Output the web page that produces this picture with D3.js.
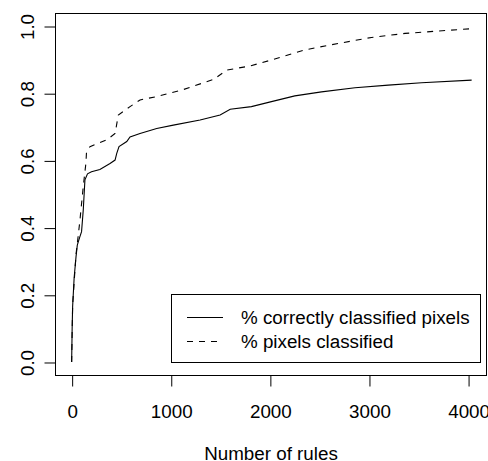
<!DOCTYPE html>
<html lang="en">
<head>
  <meta charset="UTF-8">
  <title>Rules vs classified pixels</title>
  <script src="https://cdn.jsdelivr.net/npm/d3@7"></script>
  <style>
    body { margin: 0; background: #fff; }
    svg { display: block; font-family: "Liberation Sans", Arial, sans-serif; }
  </style>
</head>
<body>
<svg></svg>
<script>
  const width = 488, height = 461
  const box = {left: 55, right: 487, top: 13, bottom: 375}
  const fontSize = 18.8

  // % correctly classified pixels (solid)
  const correctRules = [0, 5, 10, 25, 44, 57, 80, 100, 117, 134, 160, 200, 285, 387, 438, 455, 478, 556, 589, 690,
    858, 1026, 1296, 1498, 1600, 1814, 2016, 2252, 2521, 2859, 3195, 3531, 4036]
  const correctPct = [0, 0.10, 0.165, 0.25, 0.313, 0.348, 0.37, 0.388, 0.452, 0.542, 0.56, 0.566, 0.573, 0.591, 0.601,
    0.621, 0.641, 0.656, 0.67, 0.68, 0.695, 0.705, 0.72, 0.735, 0.752, 0.76, 0.775, 0.792, 0.804, 0.816, 0.824, 0.831, 0.839]

  // % pixels classified (dashed)
  const classifiedRules = [0, 10, 44, 60, 84, 117, 144, 150, 185, 354, 438, 471, 589, 690, 858, 1128, 1431, 1566,
    1802, 2016, 2354, 2690, 3026, 3364, 3700, 4036]
  const classifiedPct = [0, 0.17, 0.32, 0.36, 0.423, 0.522, 0.592, 0.626, 0.641, 0.661, 0.68, 0.735, 0.76, 0.78,
    0.79, 0.811, 0.841, 0.869, 0.881, 0.899, 0.929, 0.948, 0.966, 0.978, 0.985, 0.992]

  const xTicks = [0, 1000, 2000, 3000, 4000]
  const yTicks = [0, 0.2, 0.4, 0.6, 0.8, 1.0]
  const legendLabels = ['% correctly classified pixels', '% pixels classified']
  const xTitle = 'Number of rules'

  const svg = d3.select('svg')
      .attr('width', width)
      .attr('height', height)
      .attr('viewBox', [0, 0, width, height])

  const x = d3.scaleLinear()
      .domain([-168, 4191])
      .range([box.left, box.right])

  const y = d3.scaleLinear()
      .domain([-0.0387, 1.0387])
      .range([box.bottom, box.top])

  const line = d3.line()
      .x(d => x(d[0]))
      .y(d => y(d[1]))

  const solid = correctRules.map((r, i) => [r, correctPct[i]])
  const dashed = classifiedRules.map((r, i) => [r, classifiedPct[i]])

  svg.append('path')
      .attr('d', line(solid))
      .attr('fill', 'none')
      .attr('stroke', '#000')
      .attr('stroke-width', 1.1)

  svg.append('path')
      .attr('d', line(dashed))
      .attr('fill', 'none')
      .attr('stroke', '#000')
      .attr('stroke-width', 1.1)
      .attr('stroke-dasharray', '6,6')

  // plot box
  svg.append('rect')
      .attr('x', box.left + 0.5)
      .attr('y', box.top + 0.5)
      .attr('width', box.right - box.left - 1)
      .attr('height', box.bottom - box.top)
      .attr('fill', 'none')
      .attr('stroke', '#000')

  // x axis
  svg.append('g')
      .attr('transform', `translate(0.5,${box.bottom + 0.5})`)
      .call(d3.axisBottom(x).tickValues(xTicks).tickSize(11).tickSizeOuter(0).tickFormat(d3.format('d')))
      .call(g => g.select('.domain').remove())
      .call(g => g.selectAll('text')
          .attr('y', 42.5)
          .attr('dy', null)
          .attr('font-size', fontSize)
          .attr('font-family', '"Liberation Sans", Arial, sans-serif')
          .attr('fill', '#000'))

  // y axis
  svg.append('g')
      .attr('transform', `translate(${box.left + 0.5},0.5)`)
      .call(d3.axisLeft(y).tickValues(yTicks).tickSize(11).tickSizeOuter(0).tickFormat(d3.format('.1f')))
      .call(g => g.select('.domain').remove())
      .call(g => g.selectAll('text')
          .attr('transform', 'rotate(-90)')
          .attr('x', 0)
          .attr('y', -22)
          .attr('dy', null)
          .attr('text-anchor', 'middle')
          .attr('font-size', fontSize)
          .attr('font-family', '"Liberation Sans", Arial, sans-serif')
          .attr('fill', '#000'))

  // axis title
  svg.append('text')
      .attr('x', (x(-168) + x(4191)) / 2)
      .attr('y', 460)
      .attr('text-anchor', 'middle')
      .attr('font-size', fontSize)
      .text(xTitle)

  // legend
  const legend = svg.append('g')
  legend.append('rect')
      .attr('x', 171.5).attr('y', 294.5)
      .attr('width', 309).attr('height', 68)
      .attr('fill', '#fff')
      .attr('stroke', '#000')

  legendLabels.forEach((label, i) => {
    const ly = 317 + i * 24
    legend.append('line')
        .attr('x1', 187).attr('x2', 223)
        .attr('y1', ly + 0.5).attr('y2', ly + 0.5)
        .attr('stroke', '#000')
        .attr('stroke-width', 1.1)
        .attr('stroke-dasharray', i === 1 ? '6,6' : null)
    legend.append('text')
        .attr('x', 241)
        .attr('y', ly + 6.5)
        .attr('font-size', fontSize)
        .text(label)
  })
</script>
</body>
</html>
